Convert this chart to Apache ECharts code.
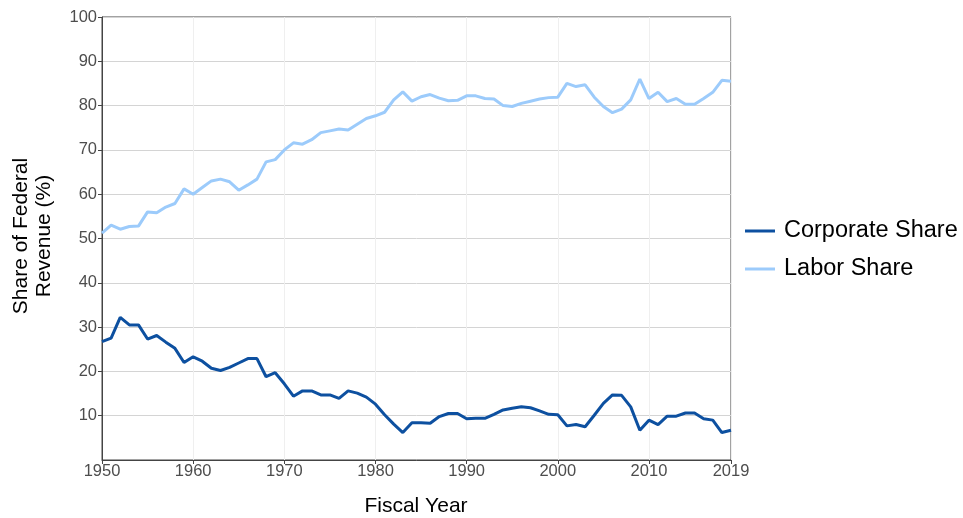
<!DOCTYPE html>
<html>
<head>
<meta charset="utf-8">
<script src="https://cdn.jsdelivr.net/npm/echarts@6/dist/echarts.min.js"></script>
<style>html,body{margin:0;padding:0;background:#fff}#c{width:963px;height:518px}</style>
</head>
<body>
<div id="c"></div>
<script>
var years = [];
for (var y = 1950; y <= 2019; y++) years.push(y);
var corporateShare = [26.7,27.5,32.2,30.5,30.5,27.3,28.1,26.6,25.2,22.0,23.3,22.3,20.7,20.2,20.9,21.9,22.9,22.9,18.8,19.7,
17.2,14.4,15.6,15.6,14.7,14.7,13.9,15.6,15.1,14.2,12.6,10.2,8.1,6.2,8.4,8.4,8.3,9.8,10.5,10.5,
9.3,9.4,9.4,10.3,11.3,11.7,12.0,11.8,11.1,10.3,10.2,7.7,8.0,7.5,10.1,12.8,14.7,14.6,12.0,6.7,
9.0,8.0,9.9,9.9,10.6,10.6,9.3,9.0,6.2,6.7];
var laborShare = [51.2,53.0,52.1,52.7,52.8,56.0,55.8,57.1,57.9,61.2,60.0,61.5,63.0,63.4,62.8,60.9,62.1,63.4,67.3,67.8,
70.0,71.6,71.3,72.3,73.9,74.3,74.7,74.5,75.8,77.1,77.7,78.5,81.3,83.1,81.0,82.0,82.5,81.7,81.1,81.2,
82.2,82.2,81.6,81.5,80.0,79.8,80.5,81.0,81.5,81.8,81.9,85.0,84.3,84.7,81.9,79.8,78.4,79.2,81.3,86.0,
81.6,83.0,80.9,81.6,80.3,80.3,81.6,83.0,85.7,85.5];
var xTickLabels = [1950,1960,1970,1980,1990,2000,2010,2019];
var yTickLabels = [10,20,30,40,50,60,70,80,90,100];

function pairs(vals){ return years.map(function(yr,i){ return [yr, vals[i]]; }); }

var chart = echarts.init(document.getElementById('c'));
var FONT = 'Liberation Sans, Arial, sans-serif';
chart.setOption({
  animation: false,
  textStyle: { fontFamily: FONT },
  grid: { left: 102, right: 232, top: 17, bottom: 58, show: true, borderColor: '#444', borderWidth: 1, containLabel: false },
  xAxis: {
    type: 'value', min: 1950, max: 2019, interval: 10,
    axisLine: { show: true, lineStyle: { color: '#444' } },
    axisTick: { show: true, length: 4, lineStyle: { color: '#444' }, customValues: xTickLabels },
    axisLabel: { color: '#4d4d4d', fontSize: 16.5, margin: 3, fontFamily: FONT, customValues: xTickLabels, formatter: function(v){ return String(v); } },
    splitLine: { show: true, lineStyle: { color: '#efefef', width: 1 } }
  },
  yAxis: {
    type: 'value', min: 0, max: 100, interval: 10,
    axisLine: { show: true, lineStyle: { color: '#444' } },
    axisTick: { show: true, length: 4, lineStyle: { color: '#444' }, customValues: yTickLabels },
    axisLabel: { color: '#4d4d4d', fontSize: 16.5, margin: 5, fontFamily: FONT, customValues: yTickLabels },
    splitLine: { show: true, lineStyle: { color: '#d4d4d4', width: 1 } }
  },
  legend: {
    orient: 'vertical', left: 745, top: 219, padding: 0, itemWidth: 30, itemHeight: 3, itemGap: 14,
    icon: 'rect',
    textStyle: { fontSize: 23.5, color: '#000', fontFamily: FONT, padding: [0,0,0,4] },
    data: ['Corporate Share', 'Labor Share']
  },
  graphic: [
    { type: 'text', x: 33, y: 236, rotation: Math.PI/2,
      style: { text: 'Share of Federal\nRevenue (%)', font: '21px ' + FONT, fill: '#000', align: 'center', verticalAlign: 'middle', lineHeight: 23 } },
    { type: 'text', x: 416, y: 506,
      style: { text: 'Fiscal Year', font: '21px ' + FONT, fill: '#000', align: 'center', verticalAlign: 'middle' } }
  ],
  series: [
    { name: 'Corporate Share', type: 'line', data: pairs(corporateShare), showSymbol: false, symbol: 'none',
      lineStyle: { color: '#0d50a0', width: 3 }, itemStyle: { color: '#0d50a0' } },
    { name: 'Labor Share', type: 'line', data: pairs(laborShare), showSymbol: false, symbol: 'none',
      lineStyle: { color: '#9ccbfb', width: 3 }, itemStyle: { color: '#9ccbfb' } }
  ]
});
</script>
</body>
</html>
